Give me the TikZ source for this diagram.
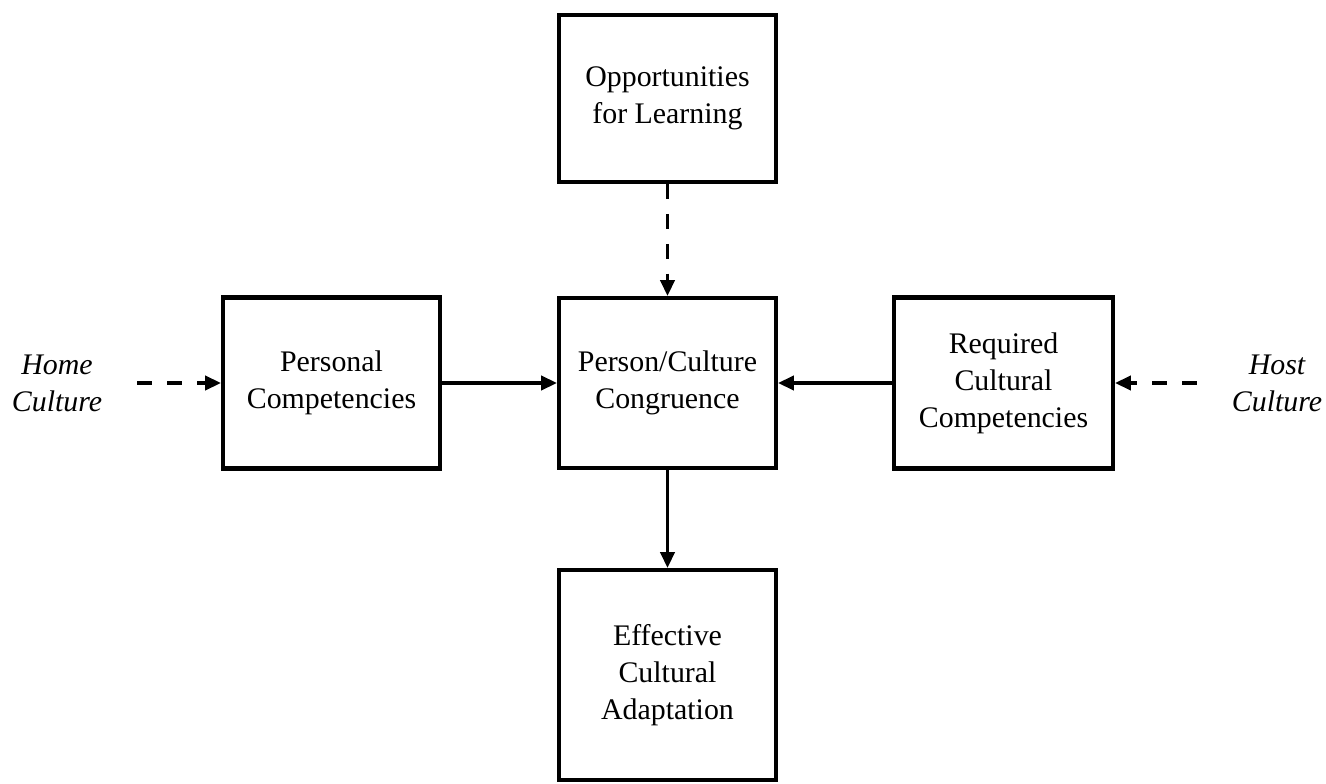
\documentclass[tikz,border=0pt]{standalone}
\usepackage{fontspec}
\setmainfont{Liberation Serif}
\usetikzlibrary{arrows.meta}

\begin{document}
\begin{tikzpicture}[
  box/.style={rectangle, draw=black, line width=2.3pt, minimum width=4.34cm, align=center, font=\fontsize{17}{21}\selectfont},
  outside/.style={align=center, font=\fontsize{17}{21}\selectfont\itshape},
  flow/.style={black, line width=2.1pt, -{Triangle[length=9pt, width=8pt]}},
  dflow/.style={flow, dash pattern=on 8.5pt off 8.5pt}
]

\newcommand\midy{8.0}

%\draw[step=1cm, gray, very thin, dotted] (0,0) grid (26,15);
\useasboundingbox (0,0) rectangle (26.52,15.66);

\node at (13.35,13.69) [box, minimum height=3.34cm] (learn) {Opportunities\\for Learning};
\node at (13.35,\midy) [box, minimum height=3.40cm] (congruence) {Person/Culture\\Congruence};
\node at (6.63,\midy) [box, minimum height=3.42cm] (personal) {Personal\\Competencies};
\node at (20.07,\midy) [box, minimum height=3.42cm, minimum width=4.38cm] (required) {Required\\Cultural\\Competencies};
\node at (13.35,2.16) [box, minimum height=4.20cm] (adapt) {Effective\\Cultural\\Adaptation};

\node at (1.14,\midy) [outside] (home) {Home\\Culture};
\node at (25.54,\midy) [outside] (host) {Host\\Culture};

\draw[dflow, shorten <=0.58cm] (home) -- (personal);
\draw[dflow, shorten <=0.58cm] (host) -- (required);
\draw[dflow] (learn) -- (congruence);

\draw[flow] (personal) -- (congruence);
\draw[flow] (required) -- (congruence);
\draw[flow] (congruence) -- (adapt);

\end{tikzpicture}
\end{document}
